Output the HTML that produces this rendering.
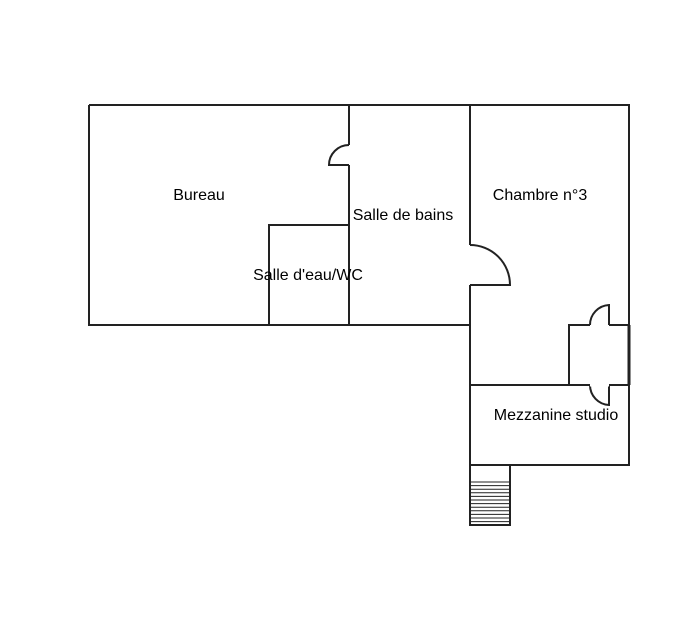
<!DOCTYPE html>
<html><head><style>
html,body{margin:0;padding:0;background:#fff;width:689px;height:631px;overflow:hidden}
svg{position:absolute;left:0;top:0}
text{font-family:"Liberation Sans",Arial,sans-serif;font-size:16px;fill:#000}
</style></head><body>
<svg width="689" height="631" viewBox="0 0 689 631">
<g fill="none" stroke="#222" stroke-width="2">
<!-- Bureau -->
<path d="M89 105 H349 V145"/>
<path d="M349 165 V325 H89 V105"/>
<path d="M349 145 A20 20 0 0 0 329 165 H349"/>
<!-- Salle d'eau -->
<path d="M269 325 V225 H349"/>
<!-- Salle de bains -->
<path d="M349 105 H470 V245"/>
<path d="M470 285 V325 H349"/>
<path d="M470 245 A40 40 0 0 1 510 285 H470"/>
<!-- Chambre -->
<path d="M470 105 H629 V385 H470 V285"/>
<!-- closet -->
<path d="M569 385 V325 H590"/>
<path d="M609 325 H629"/>
<path d="M590 325 A20 20 0 0 1 609 305 V325"/>
<path d="M590 385 A20 20 0 0 0 609 405 V385"/>
<!-- Mezzanine -->
<path d="M470 385 V465 H629 V385"/>
<!-- stairs -->
<path d="M470 465 V525 H510 V465"/>
</g>
<path d="M629 325 V385" stroke="#222" stroke-width="3"/>
<path d="M590 385 H609" stroke="#fff" stroke-width="3"/>
<g stroke="#222" stroke-width="1">
<path d="M470 482H510M470 485.6H510M470 489.2H510M470 492.8H510M470 496.4H510M470 500H510M470 503.6H510M470 507.2H510M470 510.8H510M470 514.4H510M470 518H510M470 521.6H510"/>
</g>
<text x="199" y="200" text-anchor="middle">Bureau</text>
<text x="403" y="220" text-anchor="middle">Salle de bains</text>
<text x="308" y="280" text-anchor="middle">Salle d'eau/WC</text>
<text x="540" y="200" text-anchor="middle">Chambre n°3</text>
<text x="556" y="420" text-anchor="middle">Mezzanine studio</text>
</svg>
</body></html>
